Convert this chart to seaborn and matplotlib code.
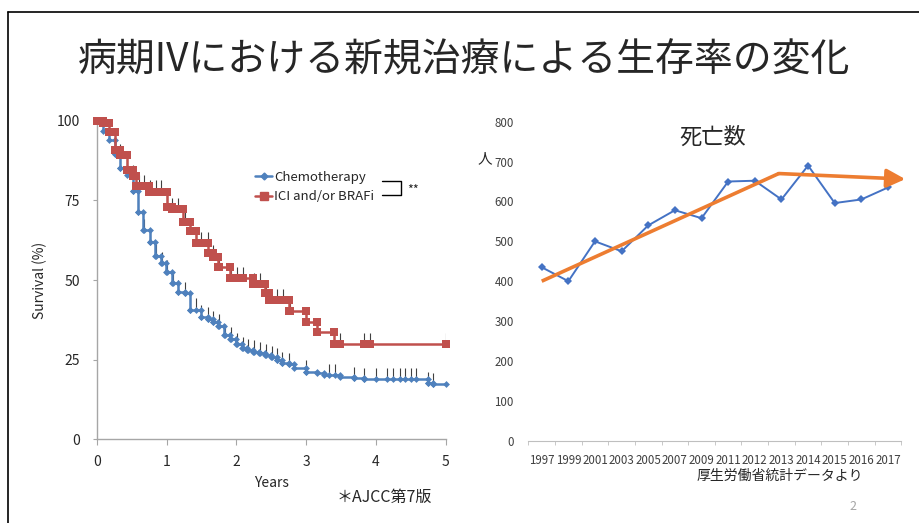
import numpy as np
import pandas as pd
import seaborn as sns
import matplotlib.pyplot as plt
from matplotlib.lines import Line2D

sns.set_style("white")
plt.rcParams['font.family'] = ['Noto Sans CJK JP', 'DejaVu Sans']

# --- 生存曲線 (Kaplan-Meier) ---
chemo_t = [0, 0.09, 0.17, 0.26, 0.34, 0.43, 0.52, 0.59, 0.67, 0.76, 0.84, 0.92, 0.99,
           1.08, 1.17, 1.26, 1.34, 1.50, 1.59, 1.66, 1.74, 1.83, 1.91, 2.00, 2.08,
           2.16, 2.24, 2.33, 2.41, 2.49, 2.58, 2.66, 2.75, 2.83, 3.00, 3.15, 3.25,
           3.49, 3.68, 3.83, 4.75, 4.82]
chemo_s = [100, 96.9, 93.9, 89.7, 85.3, 83.0, 78.0, 71.4, 65.7, 62.0, 57.6, 55.2, 52.6,
           49.2, 46.3, 45.8, 40.6, 38.5, 37.8, 36.7, 35.7, 32.6, 31.6, 29.8, 28.6,
           28.0, 27.5, 27.0, 26.4, 25.7, 25.0, 23.8, 23.5, 22.3, 21.2, 20.7, 20.1,
           19.5, 19.1, 18.8, 17.6, 17.3]
chemo_cens = [0.26, 0.34, 0.52, 0.59, 0.68, 0.76, 0.85, 0.93, 1.01, 1.09, 1.17, 1.26,
              1.34, 1.42, 1.50, 1.59, 1.67, 1.75, 1.84, 1.92, 2.01, 2.09, 2.17, 2.25,
              2.34, 2.42, 2.51, 2.59, 2.66, 2.75, 3.0, 3.33, 3.41, 3.68, 3.83, 4.0,
              4.16, 4.25, 4.34, 4.42, 4.5, 4.58, 4.75, 4.82]

ici_t = [0, 0.09, 0.17, 0.26, 0.34, 0.43, 0.52, 0.57, 0.75, 1.0, 1.08, 1.24, 1.34,
         1.42, 1.60, 1.67, 1.74, 1.91, 2.24, 2.41, 2.47, 2.75, 3.0, 3.16, 3.40]
ici_s = [100, 99.4, 96.5, 90.8, 89.2, 84.5, 82.6, 79.5, 77.7, 73.0, 72.2, 68.1, 65.4,
         61.5, 58.6, 57.3, 54.2, 50.5, 48.6, 46.0, 43.7, 40.4, 36.9, 33.6, 29.9]
ici_cens = [0.26, 0.34, 0.43, 0.52, 0.60, 0.68, 0.76, 0.85, 0.92, 1.0, 1.08, 1.17,
            1.26, 1.34, 1.42, 1.50, 1.59, 1.67, 1.75, 1.92, 2.01, 2.09, 2.25, 2.34,
            2.42, 2.59, 2.67, 2.77, 3.0, 3.16, 3.49, 3.83, 3.92, 5.0]
t_end = 5.0

# --- 死亡数 ---
years = ['1997', '1999', '2001', '2003', '2005', '2007', '2009', '2011',
         '2012', '2013', '2014', '2015', '2016', '2017']
deaths = [435, 400, 500, 475, 540, 578, 558, 650, 652, 605, 690, 596, 605, 635]
trend_x = [0, 8.9, 13.65]
trend_y = [400, 670, 656]

blue_km = '#4F81BD'
red_km = '#C0504D'
blue = '#4472C4'
orange = '#ED7D31'


def km_path(times, surv, end):
    xs, ys = [times[0]], [surv[0]]
    for i in range(1, len(times)):
        xs += [times[i], times[i]]
        ys += [surv[i - 1], surv[i]]
    xs.append(end)
    ys.append(surv[-1])
    return pd.DataFrame({'t': xs, 's': ys})


def surv_at(c, times, surv):
    idx = np.searchsorted(times, c, side='right') - 1
    return surv[idx]


fig = plt.figure(figsize=(9.19, 5.23), dpi=100)

# slide frame
fig.add_artist(Line2D([8 / 919, 1], [1 - 12 / 523] * 2, color='black', lw=1.2))
fig.add_artist(Line2D([8 / 919] * 2, [0, 1 - 12 / 523], color='black', lw=1.2))

fig.text(0.505, 1 - 60 / 523, '病期IVにおける新規治療による生存率の変化',
         ha='center', va='center', fontsize=28)

# ---------- left: KM ----------
ax = fig.add_axes([96.7 / 919, 1 - 439.3 / 523, 349 / 919, 318.6 / 523])
for times, surv, cens, col, mk, ms in [
        (chemo_t, chemo_s, chemo_cens, blue_km, 'D', 3.5),
        (ici_t, ici_s, ici_cens, red_km, 's', 6)]:
    cs = [surv_at(c, times, surv) for c in cens]
    ax.vlines(cens, cs, np.array(cs) + 3.6, color='#404040', lw=0.8, zorder=2)
    df = km_path(times, surv, t_end)
    sns.lineplot(data=df, x='t', y='s', ax=ax, estimator=None, sort=False,
                 color=col, lw=1.8, marker=mk, markersize=ms, markeredgewidth=0,
                 clip_on=False, zorder=3)
    ax.plot(cens, cs, linestyle='none', marker=mk, markersize=ms, color=col,
            markeredgewidth=0, clip_on=False, zorder=3)

ax.set_xlim(0, 5)
ax.set_ylim(0, 100)
ax.set_xticks(range(0, 6))
ax.set_yticks([0, 25, 50, 75, 100])
for s in ['top', 'right']:
    ax.spines[s].set_visible(False)
for s in ['left', 'bottom']:
    ax.spines[s].set_color('#A6A6A6')
    ax.spines[s].set_linewidth(1.0)
ax.tick_params(axis='y', left=True, length=3, color='#A6A6A6', pad=9,
               labelsize=10, labelcolor='#262626')
ax.tick_params(axis='x', bottom=True, length=4, color='#A6A6A6', pad=7,
               labelsize=10, labelcolor='#262626')
ax.set_xlabel('Years', fontsize=10, labelpad=5, color='#262626')
ax.set_ylabel('Survival (%)', fontsize=10, labelpad=7, color='#262626')

handles = [Line2D([], [], color=blue_km, lw=1.8, marker='D', markersize=3.5),
           Line2D([], [], color=red_km, lw=1.8, marker='s', markersize=6)]
ax.legend(handles, ['Chemotherapy', 'ICI and/or BRAFi'], loc='upper left',
          bbox_to_anchor=(0.42, 0.88), frameon=False, fontsize=9.5,
          handlelength=1.3, handletextpad=0.15, labelspacing=0.5)
ax.plot([0.817, 0.872, 0.872, 0.817], [0.811, 0.811, 0.767, 0.767],
        transform=ax.transAxes, color='black', lw=1.0, clip_on=False)
ax.text(0.89, 0.782, '**', transform=ax.transAxes, fontsize=9, va='center')

fig.text(384 / 919, 1 - 497 / 523, '＊AJCC第7版', ha='center', va='center',
         fontsize=11.5)

# ---------- right: 死亡数 ----------
ax2 = fig.add_axes([528.4 / 919, 1 - 440.7 / 523, 372.9 / 919, 319 / 523])
dd = pd.DataFrame({'i': range(len(years)), 'deaths': deaths})
sns.lineplot(data=dd, x='i', y='deaths', ax=ax2, color=blue, lw=1.4,
             marker='D', markersize=4, markeredgewidth=0)
ax2.plot(trend_x[:2], trend_y[:2], color=orange, lw=2.6, solid_capstyle='butt',
         clip_on=False)
ax2.annotate('', xy=(trend_x[2], trend_y[2]), xytext=(trend_x[1], trend_y[1]),
             arrowprops=dict(arrowstyle='-|>', color=orange, lw=2.6,
                             mutation_scale=28, shrinkA=0, shrinkB=0),
             annotation_clip=False)
ax2.set_xlim(-0.5, len(years) - 0.5)
ax2.set_ylim(0, 800)
ax2.set_yticks(range(0, 801, 100))
ax2.set_xticks(range(len(years)))
ax2.set_xticklabels(years)
ax2.set_xticks(np.arange(-0.5, len(years)), minor=True)
for s in ['top', 'right', 'left']:
    ax2.spines[s].set_visible(False)
ax2.spines['bottom'].set_color('#BFBFBF')
ax2.tick_params(axis='x', which='major', bottom=False, pad=6, labelsize=8.3,
                labelcolor='#404040')
ax2.tick_params(axis='x', which='minor', bottom=True, length=3, color='#BFBFBF')
ax2.tick_params(axis='y', left=False, pad=7, labelsize=8.3, labelcolor='#404040')
ax2.set_xlabel('')
ax2.set_ylabel('')

fig.text(713 / 919, 1 - 137 / 523, '死亡数', ha='center', va='center', fontsize=16)
fig.text(485 / 919, 1 - 159 / 523, '人', ha='center', va='center', fontsize=10.5)
fig.text(780 / 919, 1 - 476 / 523, '厚生労働省統計データより', ha='center',
         va='center', fontsize=10)
fig.text(853 / 919, 1 - 506 / 523, '2', ha='center', va='center', fontsize=9,
         color='#A6A6A6')

fig.savefig('out.png', dpi=100)
